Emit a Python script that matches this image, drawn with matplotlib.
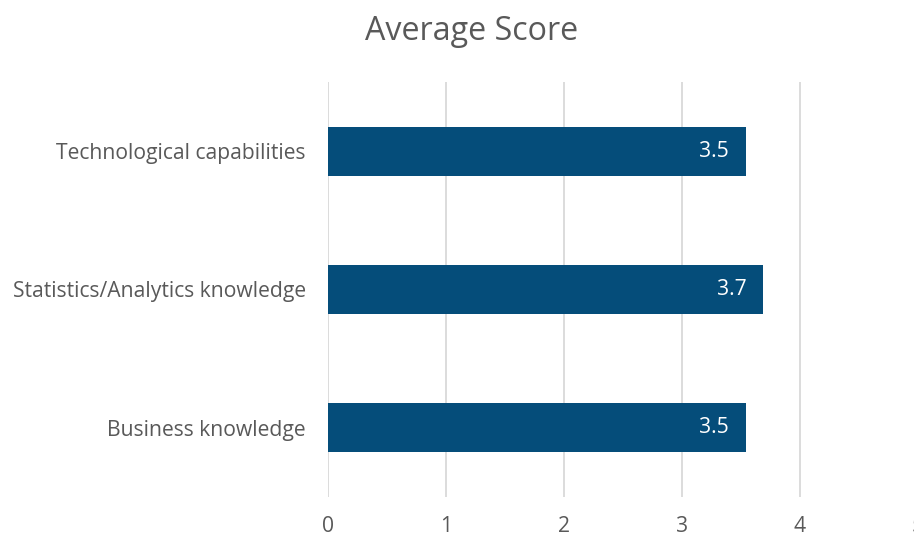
import matplotlib
matplotlib.use("Agg")
import matplotlib.pyplot as plt

plt.rcParams['font.family'] = ['Open Sans', 'DejaVu Sans']

# 下から上の順
categories = ["Business knowledge", "Statistics/Analytics knowledge", "Technological capabilities"]
scores = [3.54, 3.69, 3.54]
x_ticks = [0, 1, 2, 3, 4, 5]

bar_color = "#054D7A"
text_color = "#595959"
grid_color = "#D9D9D9"

fig = plt.figure(figsize=(9.14, 5.37), dpi=100)
ax = fig.add_axes([0.3589, 0.0745, 0.6455, 0.7728])

y = range(len(categories))
ax.barh(y, scores, height=0.354, color=bar_color, zorder=3)

for yi, v in zip(y, scores):
    ax.text(v - 0.145, yi, f"{v:.1f}", ha="right", va="center",
            color="white", fontsize=15.2, zorder=4)

ax.set_xlim(0, 5)
ax.set_ylim(-0.5, len(categories) - 0.5)
ax.set_xticks(x_ticks)
ax.set_xticklabels([str(t) for t in x_ticks])
ax.set_yticks(list(y))
ax.set_yticklabels(categories)

ax.tick_params(axis="x", length=0, pad=13.5, labelsize=15.2, labelcolor=text_color)
ax.tick_params(axis="y", length=0, pad=16, labelsize=15.2, labelcolor=text_color)

ax.grid(axis="x", color=grid_color, linewidth=1.3, zorder=0)
for s in ax.spines.values():
    s.set_visible(False)

fig.text(0.516, 0.941, "Average Score", ha="center", va="center",
         fontsize=23.2, color=text_color)

fig.savefig("out.png", dpi=100)
